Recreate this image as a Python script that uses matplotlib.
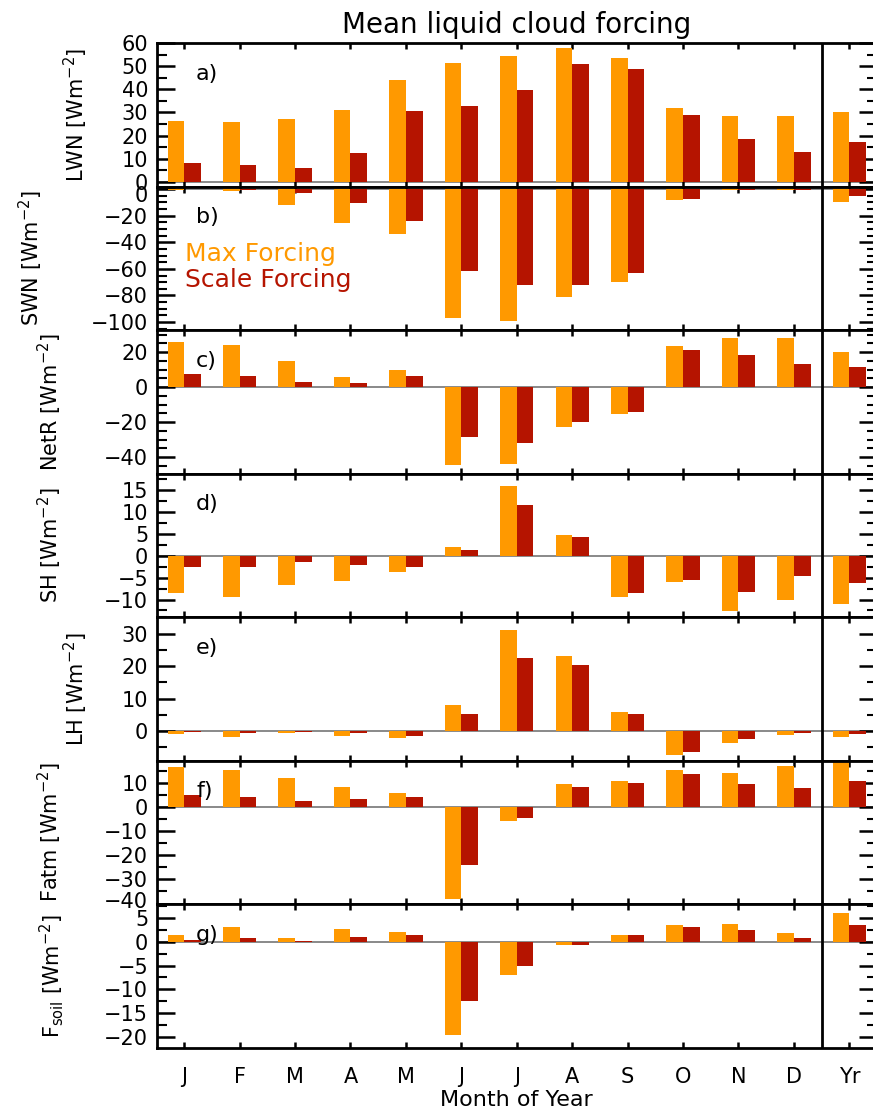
"""
Monthly and annual mean liquid cloud forcing, max vs. scale forcing.
"""

import matplotlib

matplotlib.use("Agg")

import matplotlib.pyplot as plt
import numpy as np
from matplotlib.ticker import FixedLocator, MultipleLocator
from matplotlib.transforms import ScaledTranslation

MAX_COLOR = "#FF9900"
SCALE_COLOR = "#B51400"

months = ["J", "F", "M", "A", "M", "J", "J", "A", "S", "O", "N", "D", "Yr"]

lwn_max = [26.4, 25.7, 27.0, 31.0, 43.9, 51.4, 54.3, 57.9, 53.6, 31.9, 28.6, 28.4, 30.3]
lwn_scale = [8.1, 7.3, 5.9, 12.4, 30.5, 32.7, 39.6, 51.0, 48.6, 29.0, 18.6, 13.1, 17.4]

swn_max = [-0.6, -1.6, -11.6, -25.4, -34.1, -96.9, -99.4, -81.4, -69.9, -8.4, -0.6, -0.5, -9.6]
swn_scale = [-0.2, -0.3, -2.6, -10.1, -23.9, -61.7, -71.9, -71.9, -63.4, -7.6, -0.3, -0.3, -5.4]

netr_max = [25.7, 24.2, 15.2, 5.9, 9.9, -44.4, -43.6, -22.5, -15.2, 23.4, 28.0, 28.0, 20.4]
netr_scale = [7.6, 6.7, 3.2, 2.3, 6.7, -28.2, -31.6, -20.0, -13.9, 21.3, 18.3, 13.0, 11.8]

sh_max = [-8.5, -9.5, -6.6, -5.7, -3.8, 2.1, 16.0, 4.7, -9.5, -6.0, -12.7, -10.2, -11.0]
sh_scale = [-2.5, -2.65, -1.4, -2.2, -2.65, 1.3, 11.6, 4.2, -8.6, -5.5, -8.3, -4.7, -6.3]

lh_max = [-1.0, -1.7, -0.7, -1.5, -2.2, 8.2, 31.0, 23.1, 5.8, -7.2, -3.7, -1.3, -1.7]
lh_scale = [-0.3, -0.6, -0.2, -0.6, -1.4, 5.2, 22.4, 20.5, 5.2, -6.5, -2.4, -0.6, -1.0]

fatm_max = [16.4, 15.1, 11.9, 8.2, 5.8, -38.1, -6.0, 9.3, 10.8, 15.1, 14.2, 16.8, 18.8]
fatm_scale = [4.9, 4.1, 2.6, 3.3, 4.0, -24.1, -4.4, 8.1, 9.9, 13.7, 9.3, 7.7, 10.8]

fsoil_max = [1.5, 3.1, 0.8, 2.6, 2.0, -19.5, -6.9, -0.7, 1.4, 3.4, 3.8, 1.9, 6.1]
fsoil_scale = [0.4, 0.8, 0.2, 1.05, 1.4, -12.4, -5.0, -0.6, 1.3, 3.1, 2.5, 0.8, 3.6]

# label, letter, max values, scale values, y-limits, major ticks, minor step, label x
panels = [
    ("LWN [Wm$^{-2}$]", "a)", lwn_max, lwn_scale, (-2, 60),
     [0, 10, 20, 30, 40, 50, 60], 5, -0.093),
    ("SWN [Wm$^{-2}$]", "b)", swn_max, swn_scale, (-106, 2),
     [-100, -80, -60, -40, -20, 0], 5, -0.155),
    ("NetR [Wm$^{-2}$]", "c)", netr_max, netr_scale, (-49.3, 32.7),
     [-40, -20, 0, 20], 5, -0.128),
    ("SH [Wm$^{-2}$]", "d)", sh_max, sh_scale, (-14.0, 18.8),
     [-10, -5, 0, 5, 10, 15], 2.5, -0.128),
    ("LH [Wm$^{-2}$]", "e)", lh_max, lh_scale, (-9.0, 35.1),
     [0, 10, 20, 30], 5, -0.093),
    ("Fatm [Wm$^{-2}$]", "f)", fatm_max, fatm_scale, (-40.2, 19.2),
     [-40, -30, -20, -10, 0, 10], 5, -0.128),
    ("F$_{\\rm soil}$ [Wm$^{-2}$]", "g)", fsoil_max, fsoil_scale, (-22.2, 7.9),
     [-20, -15, -10, -5, 0, 5], 2.5, -0.125),
]

plt.rcParams["font.family"] = ["DejaVu Sans"]
plt.rcParams["axes.unicode_minus"] = True

figure = plt.figure(figsize=(8.73, 11.10), dpi=100)

left = 156.5 / 873
width = (876.5 - 156.5) / 873
top_px = 43.0
panel_px = 143.5

x = np.arange(len(months))
bar_width = 0.3


def shift_label(tick, pixels):
    """
    Move one y tick label up (positive) or down (negative) by a few pixels.
    """

    text = tick.label1
    text.set_transform(text.get_transform()
                       + ScaledTranslation(0, pixels / 100, figure.dpi_scale_trans))


axes = []
for index, (label, letter, max_vals, scale_vals, ylim, major, minor, label_x) in enumerate(panels):
    bottom_px = top_px + panel_px * (index + 1)
    axis = figure.add_axes([left, 1 - bottom_px / 1110, width, panel_px / 1110])

    axis.bar(x - bar_width, max_vals, width=bar_width, align="edge",
             color=MAX_COLOR, linewidth=0, zorder=2)
    axis.bar(x, scale_vals, width=bar_width, align="edge",
             color=SCALE_COLOR, linewidth=0, zorder=2)

    axis.axhline(0, color="#808080", linewidth=1.3, zorder=1)
    axis.axvline(11.5, color="black", linewidth=2, zorder=3)

    axis.set_xlim(-0.5, 12.49)
    axis.set_ylim(*ylim)
    axis.set_xticks(x)
    axis.yaxis.set_major_locator(FixedLocator(major))
    axis.yaxis.set_minor_locator(MultipleLocator(minor))

    axis.tick_params(axis="y", which="major", direction="in", length=13,
                     width=1.8, right=True, labelsize=15, pad=6)
    axis.tick_params(axis="y", which="minor", direction="in", length=7,
                     width=1.5, right=True)
    axis.tick_params(axis="x", which="major", direction="in", length=4,
                     width=1.8, top=True, labelsize=15, pad=14)

    if index < len(panels) - 1:
        axis.tick_params(axis="x", labelbottom=False)
    else:
        axis.set_xticklabels(months)
        axis.set_xlabel("Month of Year", fontsize=16, labelpad=2)

    for spine in axis.spines.values():
        spine.set_linewidth(2)

    axis.set_ylabel(label, fontsize=15)
    axis.yaxis.set_label_coords(label_x, 0.5)

    axis.text(0.055, 0.785, letter, transform=axis.transAxes,
              fontsize=16, ha="left", va="center", zorder=4)

    axes.append(axis)

# edge labels pushed inward so neighbouring panels stay readable
shift_label(axes[1].yaxis.get_major_ticks()[-1], -5)
shift_label(axes[5].yaxis.get_major_ticks()[0], 4)

# legend written as coloured text in panel b
axes[1].text(0.04, 0.53, "Max Forcing", transform=axes[1].transAxes,
             color=MAX_COLOR, fontsize=18, ha="left", va="center")
axes[1].text(0.04, 0.35, "Scale Forcing", transform=axes[1].transAxes,
             color=SCALE_COLOR, fontsize=18, ha="left", va="center")

axes[0].set_title("Mean liquid cloud forcing", fontsize=20, pad=7)

figure.savefig("out.png", dpi=100)
plt.close(figure)
